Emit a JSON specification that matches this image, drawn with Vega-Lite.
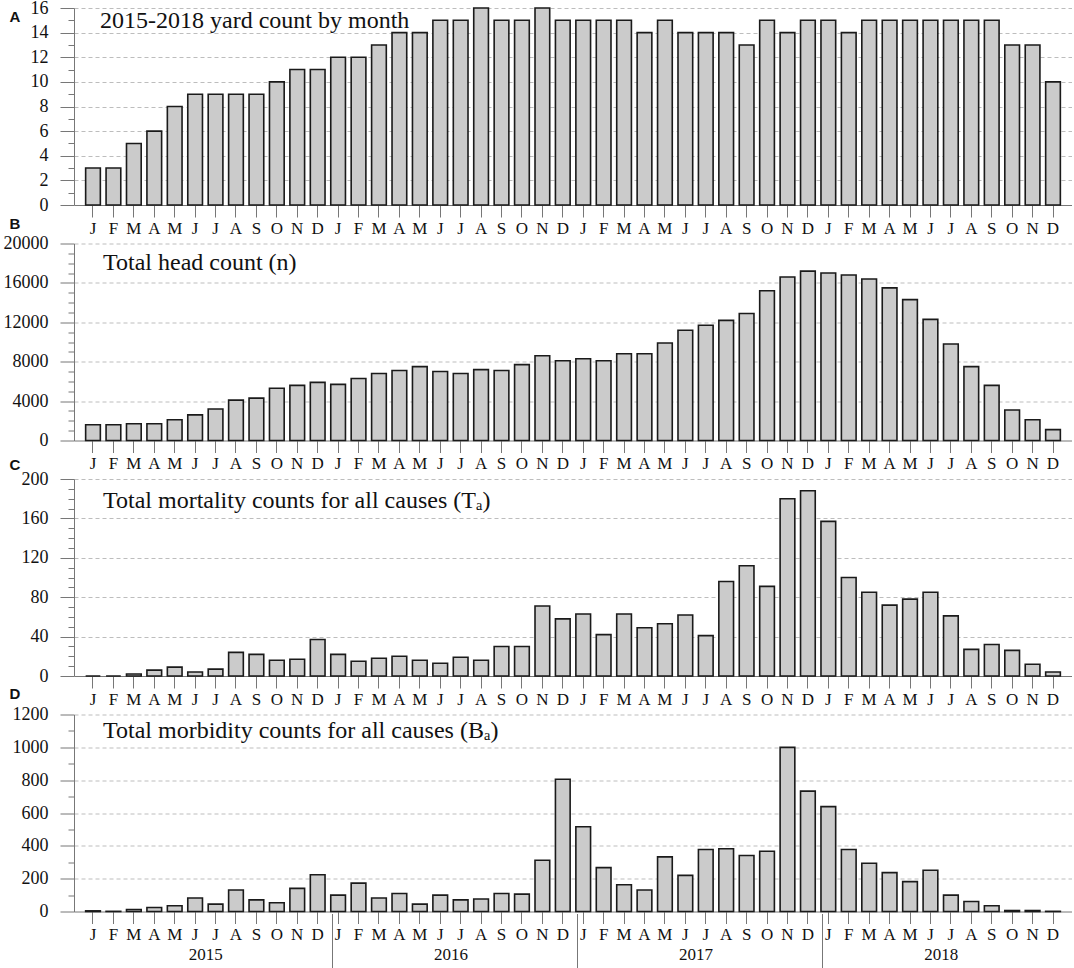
{
  "$schema": "https://vega.github.io/schema/vega-lite/v6.json",
  "padding": {"left": 3, "top": -1, "right": 0, "bottom": 0},
  "background": "white",
  "data": {"values": [
    {"m":"2015-01","a":3,"b":1600,"c":0,"d":4},
    {"m":"2015-02","a":3,"b":1600,"c":0,"d":1},
    {"m":"2015-03","a":5,"b":1700,"c":2,"d":12},
    {"m":"2015-04","a":6,"b":1700,"c":6,"d":24},
    {"m":"2015-05","a":8,"b":2100,"c":9,"d":35},
    {"m":"2015-06","a":9,"b":2600,"c":4,"d":82},
    {"m":"2015-07","a":9,"b":3200,"c":7,"d":45},
    {"m":"2015-08","a":9,"b":4100,"c":24,"d":131},
    {"m":"2015-09","a":9,"b":4300,"c":22,"d":71},
    {"m":"2015-10","a":10,"b":5300,"c":16,"d":53},
    {"m":"2015-11","a":11,"b":5600,"c":17,"d":141},
    {"m":"2015-12","a":11,"b":5900,"c":37,"d":224},
    {"m":"2016-01","a":12,"b":5700,"c":22,"d":100},
    {"m":"2016-02","a":12,"b":6300,"c":15,"d":173},
    {"m":"2016-03","a":13,"b":6800,"c":18,"d":82},
    {"m":"2016-04","a":14,"b":7100,"c":20,"d":110},
    {"m":"2016-05","a":14,"b":7500,"c":16,"d":45},
    {"m":"2016-06","a":15,"b":7000,"c":13,"d":100},
    {"m":"2016-07","a":15,"b":6800,"c":19,"d":71},
    {"m":"2016-08","a":16,"b":7200,"c":16,"d":76},
    {"m":"2016-09","a":15,"b":7100,"c":30,"d":110},
    {"m":"2016-10","a":15,"b":7700,"c":30,"d":106},
    {"m":"2016-11","a":16,"b":8600,"c":71,"d":312},
    {"m":"2016-12","a":15,"b":8100,"c":58,"d":806},
    {"m":"2017-01","a":15,"b":8300,"c":63,"d":516},
    {"m":"2017-02","a":15,"b":8100,"c":42,"d":267},
    {"m":"2017-03","a":15,"b":8800,"c":63,"d":163},
    {"m":"2017-04","a":14,"b":8800,"c":49,"d":131},
    {"m":"2017-05","a":15,"b":9900,"c":53,"d":333},
    {"m":"2017-06","a":14,"b":11200,"c":62,"d":220},
    {"m":"2017-07","a":14,"b":11700,"c":41,"d":378},
    {"m":"2017-08","a":14,"b":12200,"c":96,"d":382},
    {"m":"2017-09","a":13,"b":12900,"c":112,"d":341},
    {"m":"2017-10","a":15,"b":15200,"c":91,"d":367},
    {"m":"2017-11","a":14,"b":16600,"c":180,"d":1000},
    {"m":"2017-12","a":15,"b":17200,"c":188,"d":733},
    {"m":"2018-01","a":15,"b":17000,"c":157,"d":639},
    {"m":"2018-02","a":14,"b":16800,"c":100,"d":378},
    {"m":"2018-03","a":15,"b":16400,"c":85,"d":294},
    {"m":"2018-04","a":15,"b":15500,"c":72,"d":237},
    {"m":"2018-05","a":15,"b":14300,"c":78,"d":182},
    {"m":"2018-06","a":15,"b":12300,"c":85,"d":251},
    {"m":"2018-07","a":15,"b":9800,"c":61,"d":100},
    {"m":"2018-08","a":15,"b":7500,"c":27,"d":61},
    {"m":"2018-09","a":15,"b":5600,"c":32,"d":35},
    {"m":"2018-10","a":13,"b":3100,"c":26,"d":6},
    {"m":"2018-11","a":13,"b":2100,"c":12,"d":6},
    {"m":"2018-12","a":10,"b":1100,"c":4,"d":1}
  ]},
  "bounds": "flush",
  "spacing": 38.5,
  "vconcat": [
    {
      "width": 998, "height": 197,
      "title": {"text": "2015-2018 yard count by month", "anchor": "start", "frame": "group", "dx": 26, "offset": -53, "baseline": "alphabetic", "fontSize": 24, "font": "Liberation Serif", "fontWeight": "normal", "color": "#111"},
      "mark": {"type": "bar", "fill": "#cbcbcb", "stroke": "#1a1a1a", "strokeWidth": 1.6},
      "encoding": {
        "x": {"field": "m", "type": "ordinal", "scale": {"paddingInner": 0.28, "paddingOuter": 0.57},
          "axis": {"title": null, "labelExpr": "['J','F','M','A','M','J','J','A','S','O','N','D'][toNumber(substring(datum.value,5,7))-1]", "labelAngle": 0, "tickSize": 12, "labelPadding": 3,
            "labelFont": {"condition": {"test": "true", "value": "Liberation Serif"}, "value": "Liberation Serif"}, "labelFontSize": 17, "grid": false}},
        "y": {"field": "a", "type": "quantitative", "scale": {"domain": [0, 16], "nice": false},
          "axis": {"values": [0,1,2,3,4,5,6,7,8,9,10,11,12,13,14,15,16], "format": "d", "labelOverlap": false,
            "labelExpr": "datum.value % 2 == 0 ? datum.label : ''",
            "tickSize": {"condition": {"test": "datum.value % 2 == 0", "value": 14}, "value": 6},
            "gridOpacity": {"condition": {"test": "datum.value % 2 == 0 && datum.value > 0", "value": 1}, "value": 0},
            "labelPadding": 12, "labelFont": {"condition": {"test": "true", "value": "Liberation Serif"}, "value": "Liberation Serif"}, "labelFontSize": 18,
            "title": "A", "titleAngle": 0, "titleAlign": "left", "titleBaseline": "top", "titleX": -65, "titleY": 1, "titleFont": "Liberation Sans", "titleFontSize": 15, "titleFontWeight": "bold", "titleColor": "#111"}}
      }
    },
    {
      "width": 998, "height": 197,
      "title": {"text": "Total head count (n)", "anchor": "start", "frame": "group", "dx": 29, "offset": -77, "baseline": "alphabetic", "fontSize": 24, "font": "Liberation Serif", "fontWeight": "normal", "color": "#111"},
      "mark": {"type": "bar", "fill": "#cbcbcb", "stroke": "#1a1a1a", "strokeWidth": 1.6},
      "encoding": {
        "x": {"field": "m", "type": "ordinal", "scale": {"paddingInner": 0.28, "paddingOuter": 0.57},
          "axis": {"title": null, "labelExpr": "['J','F','M','A','M','J','J','A','S','O','N','D'][toNumber(substring(datum.value,5,7))-1]", "labelAngle": 0, "tickSize": 12, "labelPadding": 3,
            "labelFont": {"condition": {"test": "true", "value": "Liberation Serif"}, "value": "Liberation Serif"}, "labelFontSize": 17, "grid": false}},
        "y": {"field": "b", "type": "quantitative", "scale": {"domain": [0, 20000], "nice": false},
          "axis": {"values": [0,1000,2000,3000,4000,5000,6000,7000,8000,9000,10000,11000,12000,13000,14000,15000,16000,17000,18000,19000,20000], "format": "d", "labelOverlap": false,
            "labelExpr": "datum.value % 4000 == 0 ? datum.label : ''",
            "tickSize": {"condition": {"test": "datum.value % 4000 == 0", "value": 14}, "value": 6},
            "gridOpacity": {"condition": {"test": "datum.value % 4000 == 0 && datum.value > 0", "value": 1}, "value": 0},
            "labelPadding": 12, "labelFont": {"condition": {"test": "true", "value": "Liberation Serif"}, "value": "Liberation Serif"}, "labelFontSize": 18,
            "title": "B", "titleAngle": 0, "titleAlign": "left", "titleBaseline": "top", "titleX": -65, "titleY": -27, "titleFont": "Liberation Sans", "titleFontSize": 15, "titleFontWeight": "bold", "titleColor": "#111"}}
      }
    },
    {
      "width": 998, "height": 197,
      "title": {"text": "Total mortality counts for all causes (Tₐ)", "anchor": "start", "frame": "group", "dx": 29, "offset": -75, "baseline": "alphabetic", "fontSize": 24, "font": "Liberation Serif", "fontWeight": "normal", "color": "#111"},
      "mark": {"type": "bar", "fill": "#cbcbcb", "stroke": "#1a1a1a", "strokeWidth": 1.6},
      "encoding": {
        "x": {"field": "m", "type": "ordinal", "scale": {"paddingInner": 0.28, "paddingOuter": 0.57},
          "axis": {"title": null, "labelExpr": "['J','F','M','A','M','J','J','A','S','O','N','D'][toNumber(substring(datum.value,5,7))-1]", "labelAngle": 0, "tickSize": 12, "labelPadding": 3,
            "labelFont": {"condition": {"test": "true", "value": "Liberation Serif"}, "value": "Liberation Serif"}, "labelFontSize": 17, "grid": false}},
        "y": {"field": "c", "type": "quantitative", "scale": {"domain": [0, 200], "nice": false},
          "axis": {"values": [0,10,20,30,40,50,60,70,80,90,100,110,120,130,140,150,160,170,180,190,200], "format": "d", "labelOverlap": false,
            "labelExpr": "datum.value % 40 == 0 ? datum.label : ''",
            "tickSize": {"condition": {"test": "datum.value % 40 == 0", "value": 14}, "value": 6},
            "gridOpacity": {"condition": {"test": "datum.value % 40 == 0 && datum.value > 0", "value": 1}, "value": 0},
            "labelPadding": 12, "labelFont": {"condition": {"test": "true", "value": "Liberation Serif"}, "value": "Liberation Serif"}, "labelFontSize": 18,
            "title": "C", "titleAngle": 0, "titleAlign": "left", "titleBaseline": "top", "titleX": -65, "titleY": -22, "titleFont": "Liberation Sans", "titleFontSize": 15, "titleFontWeight": "bold", "titleColor": "#111"}}
      }
    },
    {
      "width": 998, "height": 197,
      "title": {"text": "Total morbidity counts for all causes (Bₐ)", "anchor": "start", "frame": "group", "dx": 29, "offset": -75, "baseline": "alphabetic", "fontSize": 24, "font": "Liberation Serif", "fontWeight": "normal", "color": "#111"},
      "layer": [
        {
          "mark": {"type": "bar", "fill": "#cbcbcb", "stroke": "#1a1a1a", "strokeWidth": 1.6},
          "encoding": {
            "x": {"field": "m", "type": "ordinal", "scale": {"paddingInner": 0.28, "paddingOuter": 0.57},
              "axis": {"title": null, "labelExpr": "['J','F','M','A','M','J','J','A','S','O','N','D'][toNumber(substring(datum.value,5,7))-1]", "labelAngle": 0, "tickSize": 12, "labelPadding": 3,
                "labelFont": {"condition": {"test": "true", "value": "Liberation Serif"}, "value": "Liberation Serif"}, "labelFontSize": 17, "grid": false}},
            "y": {"field": "d", "type": "quantitative", "scale": {"domain": [0, 1200], "nice": false},
              "axis": {"values": [0,100,200,300,400,500,600,700,800,900,1000,1100,1200], "format": "d", "labelOverlap": false,
                "labelExpr": "datum.value % 200 == 0 ? datum.label : ''",
                "tickSize": {"condition": {"test": "datum.value % 200 == 0", "value": 14}, "value": 6},
                "gridOpacity": {"condition": {"test": "datum.value % 200 == 0 && datum.value > 0", "value": 1}, "value": 0},
                "labelPadding": 12, "labelFont": {"condition": {"test": "true", "value": "Liberation Serif"}, "value": "Liberation Serif"}, "labelFontSize": 18,
                "title": "D", "titleAngle": 0, "titleAlign": "left", "titleBaseline": "top", "titleX": -65, "titleY": -28, "titleFont": "Liberation Sans", "titleFontSize": 15, "titleFontWeight": "bold", "titleColor": "#111"}}
          }
        },
        {
          "data": {"values": [{"year": "2015"}, {"year": "2016"}, {"year": "2017"}, {"year": "2018"}]},
          "mark": {"type": "point", "opacity": 0},
          "encoding": {
            "x": {"field": "year", "type": "ordinal", "scale": {"type": "band", "paddingInner": 0, "paddingOuter": 0.0358},
              "axis": {"orient": "bottom", "offset": 2, "title": null, "bandPosition": 0, "tickOffset": 4, "labelOffset": -4, "tickSize": 58, "labelPadding": -25, "domain": false, "labelAngle": 0, "labelFont": "Liberation Serif", "labelFontSize": 17, "grid": false,
                "tickOpacity": {"condition": {"test": "datum.value == '2015'", "value": 0}, "value": 1}}}
          }
        }
      ],
      "resolve": {"scale": {"x": "independent"}, "axis": {"x": "independent"}}
    }
  ],
  "config": {
    "view": {"stroke": null},
    "font": "Liberation Serif",
    "style": {"guide-label": {"font": "Liberation Serif"}},
    "axis": {"labelFont": "Liberation Serif", "labelColor": "#111", "domainColor": "#777", "tickColor": "#777", "gridColor": "#bdbdbd", "gridDash": [4, 3], "domainWidth": 1, "tickWidth": 1}
  }
}
